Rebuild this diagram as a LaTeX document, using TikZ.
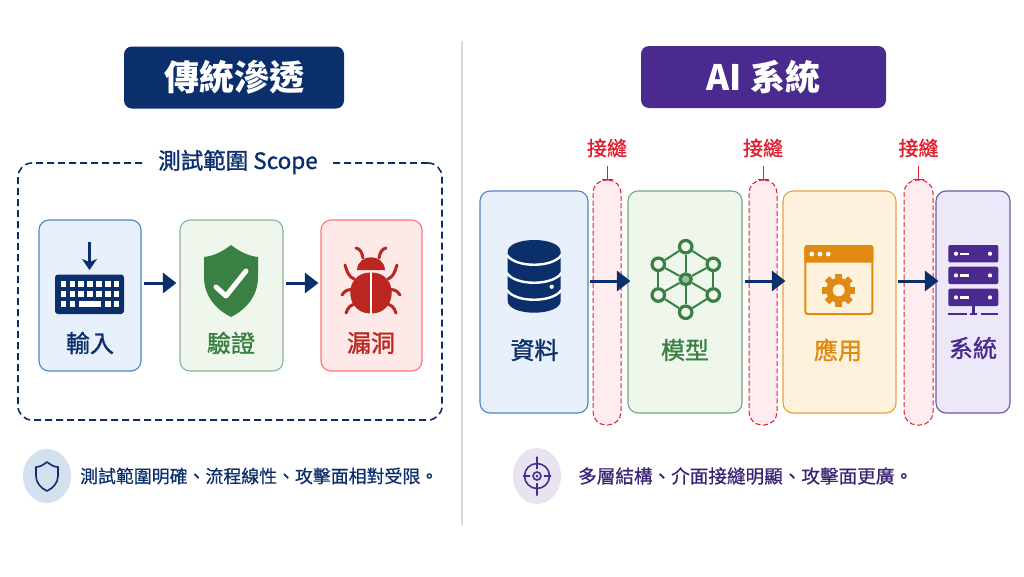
\documentclass[tikz,border=0pt]{standalone}
\usepackage{fontspec}
\setmainfont{Noto Sans CJK TC}
\newfontfamily\midfont{Noto Sans CJK TC}[FakeBold=1.2]
\newfontfamily\lightfont{Noto Sans CJK TC}[FakeBold=0.6]
\usepackage{xcolor}
\usetikzlibrary{positioning,arrows.meta,calc}
\definecolor{navy}{HTML}{0B2F6B}
\definecolor{violet}{HTML}{4B2A8F}
\definecolor{leafgreen}{HTML}{3A8044}
\definecolor{bugred}{HTML}{BC2620}
\definecolor{amber}{HTML}{E08A12}
\definecolor{seamred}{HTML}{DE2030}
\definecolor{blueline}{HTML}{4F84C4}
\definecolor{bluefill}{HTML}{E8F1FB}
\definecolor{greenfill}{HTML}{EFF7EC}
\definecolor{redfill}{HTML}{FDE9E8}
\definecolor{amberfill}{HTML}{FFF2DC}
\definecolor{violetfill}{HTML}{EDE7FA}
\definecolor{seamfill}{HTML}{FFECEE}
\newcommand{\fsize}[1]{\fontsize{#1}{#1}\selectfont}

\begin{document}
\begin{tikzpicture}[
  x=1pt,y=-1pt,
  titlebox/.style={rounded corners=8pt,minimum height=62pt,text=white,font=\fsize{35}\bfseries},
  card/.style={draw,line width=1.1pt,rounded corners=10pt,inner sep=0pt},
  cardtext/.style={font=\fsize{24}\midfont},
  seam/.style={draw=seamred,fill=seamfill,line width=1pt,dash pattern=on 5pt off 2.5pt,rounded corners=13pt,minimum height=245pt,inner sep=0pt},
  seamtext/.style={text=seamred,font=\fsize{20}\midfont},
  seamtick/.style={draw=seamred,line width=1pt,shorten <=5pt,-{Bar[width=11pt,line width=1pt]}},
  flow/.style={draw=navy,line width=3pt,-{Triangle[length=13.5pt,width=20pt]}},
  hub/.style={circle,draw=leafgreen,line width=3.2pt,fill=greenfill,minimum size=12.5pt,inner sep=0pt},
  note/.style={anchor=west,inner sep=0pt,font=\fsize{17.9}\lightfont}
]
\useasboundingbox (0,0) rectangle (1024,576);
\draw[black!15,line width=1.2pt] (462,41) -- (462,525);

% Titles
\node[titlebox,fill=navy,minimum width=220pt] (titleL) at (234,77.5) {傳統滲透};
\node[titlebox,fill=violet,minimum width=245pt] (titleR) at (763.5,77) {AI 系統};

% Scope frame with its label sitting on the top edge
\node[draw=navy,line width=1.6pt,dash pattern=on 7pt off 4pt,rounded corners=14pt,minimum width=424pt,minimum height=257pt] (scope) at (230,291.5) {};
\node[fill=white,text=navy,font=\fsize{22.5}\midfont,inner sep=0pt,minimum width=184pt,minimum height=24pt] (scopetext) at (238,162) {測試範圍 Scope};

% Left cards
\node[card,draw=blueline,fill=bluefill,minimum width=102pt,minimum height=151pt] (input) at (90,295.5) {};
\node[card,draw=leafgreen!60,fill=greenfill,minimum width=103pt,minimum height=151pt] (verify) at (231.5,295.5) {};
\node[card,draw=red!55,fill=redfill,minimum width=101pt,minimum height=151pt] (vuln) at (371.5,295.5) {};
\node[cardtext,text=navy] (inputtext) at (90,343) {輸入};
\node[cardtext,text=leafgreen] (verifytext) at (231,343) {驗證};
\node[cardtext,text=bugred] (vulntext) at (371,343) {漏洞};
\draw[flow,shorten <=2pt,shorten >=3pt] ([yshift=12.5pt]input.east) -- ([yshift=12.5pt]verify.west);
\draw[flow,shorten <=2pt,shorten >=2pt] ([yshift=12.5pt]verify.east) -- ([yshift=12.5pt]vuln.west);

% Keyboard icon
\draw[navy,line width=3pt,-{Stealth[length=11pt,width=15pt,inset=3pt]}] (89.5,242) -- (89.5,270);
\fill[navy,rounded corners=3pt] (55,274.5) rectangle (124,314);
\foreach \kx in {0,...,6} \foreach \ky in {284,294} \fill[white] ({63.3+8.9*\kx-2.7},\ky-2.7) rectangle ++(5.4,5.4);
\foreach \kx in {0,1,5,6} \fill[white] ({63.3+8.9*\kx-2.7},301.3) rectangle ++(5.4,5.4);
\fill[white] (78.5,301.3) rectangle (100.5,306.7);

% Shield icon
\fill[leafgreen] (231,245) .. controls (240,252) and (249,256) .. (258,257) -- (258,277) .. controls (258,297) and (245,310) .. (231,317) .. controls (217,310) and (204,297) .. (204,277) -- (204,257) .. controls (213,256) and (222,252) .. (231,245) -- cycle;
\draw[white,line width=5pt,line cap=round,line join=round] (216,287) -- (226,296) -- (246,271);

% Bug icon
\fill[bugred] (357,270) .. controls (358,253) and (384,253) .. (385,270) -- cycle;
\fill[bugred] (371,272.5) .. controls (343,272) and (344,313) .. (370,313.5) -- (372,313.5) .. controls (398,313) and (399,272) .. (371,272.5) -- cycle;
\draw[white,line width=1.6pt] (371,271) -- (371,314);
\draw[bugred,line width=3pt,line cap=round]
  (363,258) .. controls (362,252) and (360,249) .. (356,248)
  (379,258) .. controls (380,252) and (382,249) .. (386,248)
  (354,279) .. controls (349,277) and (347,272) .. (345,265)
  (388,279) .. controls (393,277) and (395,272) .. (397,265)
  (353,290) .. controls (349,289) and (345,290) .. (342,295)
  (389,290) .. controls (393,289) and (397,290) .. (400,295)
  (357,304) .. controls (351,304) and (348,307) .. (346,313)
  (385,304) .. controls (391,304) and (394,307) .. (396,313);

% Seams
\node[seam,minimum width=28pt] (seam1) at (607,302.5) {};
\node[seam,minimum width=28pt] (seam2) at (763,302.5) {};
\node[seam,minimum width=29pt] (seam3) at (918.5,302.5) {};
\node[seamtext] (seamtext1) at (607,148) {接縫};
\node[seamtext] (seamtext2) at (763,148) {接縫};
\node[seamtext] (seamtext3) at (918.5,148) {接縫};
\foreach \s in {1,2,3} \draw[seamtick] (seamtext\s) -- (seam\s);

% Right cards
\node[card,draw=blueline,fill=bluefill,minimum width=108pt,minimum height=222pt] (data) at (534,302) {};
\node[card,draw=leafgreen!70,fill=greenfill,minimum width=114pt,minimum height=222pt] (model) at (685,302) {};
\node[card,draw=amber!80,fill=amberfill,minimum width=113pt,minimum height=222pt] (app) at (839.5,302) {};
\node[card,draw=violet!80,fill=violetfill,minimum width=74pt,minimum height=222pt] (sys) at (973,302) {};
\node[cardtext,text=navy] (datatext) at (534.5,350) {資料};
\node[cardtext,text=leafgreen] (modeltext) at (685,350) {模型};
\node[cardtext,text=amber] (apptext) at (838,350) {應用};
\node[cardtext,text=violet] (systext) at (973,348) {系統};
\draw[flow,shorten <=1pt,shorten >=-3pt] ([yshift=21pt]data.east) -- ([yshift=21pt]model.west);
\draw[flow,shorten <=2pt,shorten >=-3pt] ([yshift=21pt]model.east) -- ([yshift=21pt]app.west);
\draw[flow,shorten <=1pt,shorten >=-3pt] ([yshift=21pt]app.east) -- ([yshift=21pt]sys.west);

% Database icon
\fill[navy] (507.7,252) .. controls (507.7,236) and (560.7,236) .. (560.7,252) -- (560.7,300.7) .. controls (560.7,316.7) and (507.7,316.7) .. (507.7,300.7) -- cycle;
\foreach \dy in {255,273,290} \draw[white,line width=2.4pt] (507,\dy) .. controls (515,\dy+13) and (553,\dy+13) .. (561.4,\dy);
\fill[white] (551.7,286.7) circle (2.2);

% Network icon
\node[hub] (hubT) at (685.7,246.7) {};
\node[hub] (hubUL) at (658.3,264.3) {};
\node[hub] (hubUR) at (713.3,264.3) {};
\node[hub,fill=leafgreen!50,minimum size=11pt] (hubC) at (685.7,279.3) {};
\node[hub] (hubLL) at (658.3,295) {};
\node[hub] (hubLR) at (713.3,295) {};
\node[hub] (hubB) at (685.7,312.3) {};
\foreach \a/\b in {hubT/hubUL,hubT/hubUR,hubUL/hubLL,hubUR/hubLR,hubLL/hubB,hubLR/hubB,hubC/hubT,hubC/hubB,hubC/hubUL,hubC/hubUR,hubC/hubLL,hubC/hubLR}
  \draw[leafgreen,line width=2pt] (\a) -- (\b);

% Window icon
\draw[amber,line width=2pt,rounded corners=2.5pt] (805.3,246) rectangle (872.3,314);
\fill[amber,rounded corners=2.5pt] (804.3,245) rectangle (873.3,262.7);
\foreach \wx in {811.7,820,828.3} \fill[white] (\wx,254) circle (2.4);
\foreach \ang in {0,45,...,315} \draw[amber,line width=6.5pt] (838.7,290.3) +(\ang:10) -- +(\ang:16.5);
\fill[amber] (838.7,290.3) circle (12.5);
\fill[amberfill] (838.7,290.3) circle (6);

% Server icon
\foreach \ry in {245,266.7,288.7} {
  \fill[violet,rounded corners=2pt] (948.3,\ry) rectangle (998.3,\ry+17.4);
  \fill[white] (956,\ry+8.7) circle (2.1);
  \fill[white] (990,\ry+8.7) circle (2.1);
  \draw[white,line width=2.2pt] (960,\ry+8.7) -- (969.3,\ry+8.7);
}
\draw[violet,line width=2.4pt] (973.3,306) -- (973.3,314) (948.3,314) -- (966.7,314) (970,314) -- (976.7,314) (980.7,314) -- (998.3,314);

% Bottom notes
\fill[blueline!25] (47,476) ellipse (24 and 27);
\draw[navy,line width=1.6pt,line join=round] (47,462) .. controls (51,465) and (54,467) .. (58,467) -- (58,476) .. controls (58,483) and (53,488) .. (47,491) .. controls (41,488) and (36,483) .. (36,476) -- (36,467) .. controls (40,467) and (43,465) .. (47,462) -- cycle;
\node[note,text=navy] (noteL) at (80,476) {測試範圍明確、流程線性、攻擊面相對受限。};
\fill[violet!13] (537,476) ellipse (24 and 28);
\draw[violet,line width=1.6pt] (537,476) circle (12.5) (537,476) circle (4) (537,456.5) -- (537,469) (537,483) -- (537,495.5) (523,476) -- (530,476) (544,476) -- (551,476);
\fill[violet] (537,476) circle (1.5);
\node[note,text=violet!80!black,font=\fsize{18.6}\lightfont] (noteR) at (578,476) {多層結構、介面接縫明顯、攻擊面更廣。};
\end{tikzpicture}
\end{document}
